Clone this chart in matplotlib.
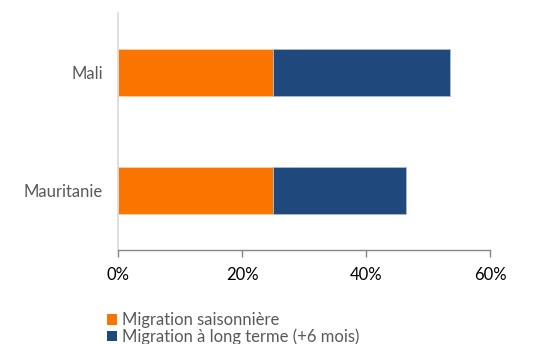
import matplotlib.pyplot as plt
from matplotlib.patches import Patch
from matplotlib.ticker import FuncFormatter

plt.rcParams['font.family'] = ['Lato', 'DejaVu Sans']

# data (percent)
pays = ['Mauritanie', 'Mali']
saisonniere = [25.0, 25.0]
long_terme = [21.4, 28.5]
series_labels = ['Migration saisonnière', 'Migration à long terme (+6 mois)']
xticks = [0, 20, 40, 60]

orange = '#fa7500'
bleu = '#1f497d'

fig = plt.figure(figsize=(5.44, 3.44), dpi=100)
ax = fig.add_axes([0.2175, 0.2733, 0.6832, 0.6887])

y = range(len(pays))
ax.barh(y, saisonniere, height=0.40, color=orange, edgecolor='#fbd0a8', linewidth=0.6)
ax.barh(y, long_terme, left=saisonniere, height=0.40, color=bleu, edgecolor='#a9bcd6', linewidth=0.6)

ax.set_xlim(0, 60)
ax.set_ylim(-0.5, 1.5)
ax.set_xticks(xticks)
ax.xaxis.set_major_formatter(FuncFormatter(lambda v, p: '%d%%' % v))
ax.set_yticks(list(y))
ax.set_yticklabels(pays)

for s in ['top', 'right']:
    ax.spines[s].set_visible(False)
ax.spines['left'].set_color('#d9d9d9')
ax.spines['left'].set_linewidth(1.2)
ax.spines['bottom'].set_color('#868686')
ax.spines['bottom'].set_linewidth(1.0)

ax.tick_params(axis='x', length=5, width=1.0, color='#868686', labelsize=12, labelcolor='black', pad=7)
ax.tick_params(axis='y', length=0, labelsize=12, labelcolor='#595959', pad=11)

handles = [Patch(facecolor=orange), Patch(facecolor=bleu)]
fig.legend(handles, series_labels, loc='upper left', bbox_to_anchor=(0.196, 0.092),
           frameon=False, fontsize=12, labelcolor='#595959', handlelength=0.6, handleheight=0.6,
           handletextpad=0.3, labelspacing=0.0, borderaxespad=0, borderpad=0)

fig.savefig('out.png', dpi=100)
